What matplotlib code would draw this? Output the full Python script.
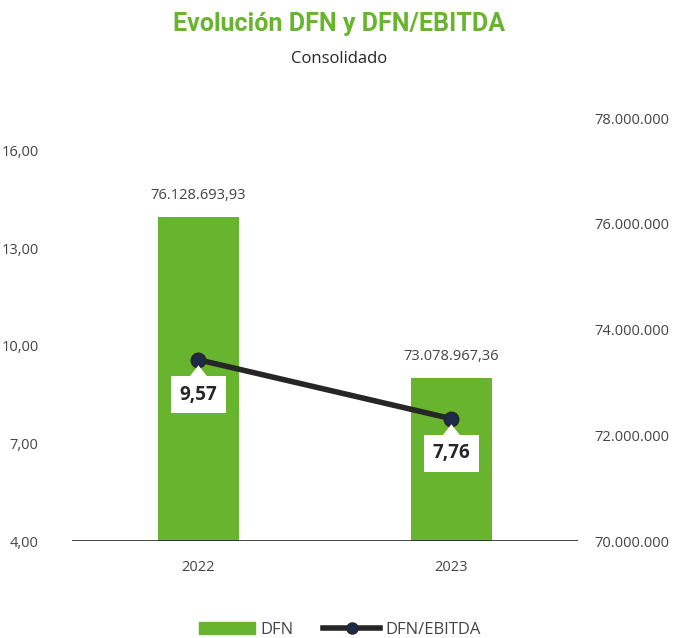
import matplotlib.pyplot as plt
from matplotlib.patches import Patch
from matplotlib.lines import Line2D

plt.rcParams['font.family'] = ['Open Sans', 'DejaVu Sans']

years = ['2022', '2023']
dfn = [76128693.93, 73078967.36]
dfn_ebitda = [9.57, 7.76]
dfn_labels = ['76.128.693,93', '73.078.967,36']
ratio_labels = ['9,57', '7,76']

green = '#69b42e'
dark = '#262626'
gray = '#444444'

fig = plt.figure(figsize=(6.79, 6.38), dpi=100)
ax = fig.add_axes([0.106, 0.152, 0.745, 0.663])
ax2 = ax.twinx()

x = range(len(years))

# bars on the right axis
ax2.bar(x, dfn, width=0.32, color=green, zorder=2)
for i, v in enumerate(dfn):
    ax2.annotate(dfn_labels[i], (i, v), xytext=(0, 10), textcoords='offset points',
                 ha='center', va='bottom', fontsize=10.5, color=gray)
ax2.set_ylim(70000000, 78000000)
ax2.set_yticks([70000000, 72000000, 74000000, 76000000, 78000000])
ax2.set_yticklabels(['70.000.000', '72.000.000', '74.000.000', '76.000.000', '78.000.000'])

# line on the left axis, drawn on top
ax.set_zorder(ax2.get_zorder() + 1)
ax.patch.set_visible(False)
ax.plot(x, dfn_ebitda, color=dark, lw=4, marker='o', ms=10,
        mfc='#1c2b4a', mec=dark, mew=1.5, zorder=3)
for i, v in enumerate(dfn_ebitda):
    ax.annotate(ratio_labels[i], (i, v), xytext=(0, -25), textcoords='offset points',
                ha='center', va='center', fontsize=13.5, fontweight='bold', color=dark,
                bbox=dict(boxstyle='square,pad=0.45', fc='white', ec='none'),
                arrowprops=dict(arrowstyle='wedge,tail_width=0.9,shrink_factor=0.5',
                                fc='white', ec='none', shrinkA=0, shrinkB=4),
                zorder=4)
ax.set_ylim(4, 17)
ax.set_yticks([4, 7, 10, 13, 16])
ax.set_yticklabels(['4,00', '7,00', '10,00', '13,00', '16,00'])

ax.set_xlim(-0.5, 1.5)
ax.set_xticks(list(x))
ax.set_xticklabels(years)

for a in (ax, ax2):
    for s in a.spines.values():
        s.set_visible(False)
    a.tick_params(length=0, labelsize=10.5, labelcolor=gray)
ax.tick_params(axis='y', pad=24)
ax2.tick_params(axis='y', pad=12)
ax.tick_params(axis='x', pad=14)
ax.axhline(4, color=dark, lw=1.2, zorder=5)

fig.text(0.5, 0.962, 'Evolución DFN y DFN/EBITDA', ha='center', va='center',
         fontsize=18, fontweight='bold', color=green, family=['Roboto', 'DejaVu Sans'])
fig.text(0.5, 0.908, 'Consolidado', ha='center', va='center', fontsize=12, color=dark)

handles = [Patch(color=green, label='DFN'),
           Line2D([], [], color=dark, lw=4, marker='o', ms=8, mfc='#1c2b4a', mec=dark,
                  label='DFN/EBITDA')]
fig.legend(handles=handles, loc='center', bbox_to_anchor=(0.5, 0.013), ncol=2,
           frameon=False, fontsize=12, labelcolor=gray, handlelength=3.4,
           columnspacing=1.8, handletextpad=0.3)

fig.savefig('out.png', dpi=100)
